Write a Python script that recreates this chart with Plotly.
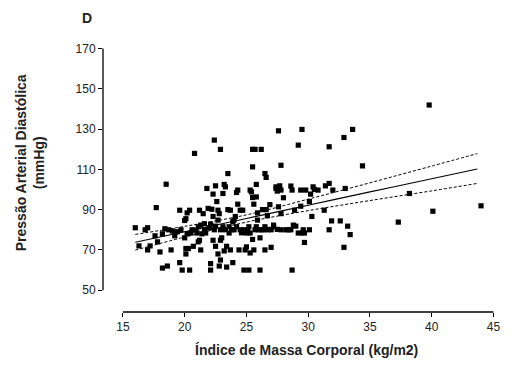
import plotly.graph_objects as go

# Scatter data: (IMC, PAD)
imc = [16.0,16.3,16.8,17.0,17.0,17.2,17.6,17.7,17.8,18.0,18.2,18.2,18.4,18.5,18.6,18.7,18.9,19.0,19.2,19.4,
       19.6,19.6,19.7,19.8,20.0,20.0,20.1,20.2,20.1,20.2,20.3,20.4,20.4,20.5,20.6,20.7,20.8,20.9,21.0,21.1,
       21.2,21.3,21.3,21.4,21.5,21.6,21.7,21.8,21.9,22.0,22.1,22.1,22.2,22.3,22.3,22.4,22.4,22.5,22.5,22.6,
       22.7,22.7,22.7,22.8,22.8,22.9,22.9,22.9,23.0,23.1,23.1,23.2,23.2,23.3,23.3,23.4,23.4,23.5,23.5,23.6,
       23.7,23.7,23.8,23.9,23.9,24.0,24.1,24.2,24.3,24.3,24.4,24.5,24.5,24.6,24.7,24.8,24.8,24.9,25.0,25.1,
       25.2,25.2,25.3,25.3,25.4,25.5,25.5,25.5,25.5,25.6,25.6,25.7,25.7,25.8,25.8,25.9,25.9,26.0,26.1,26.1,
       26.2,26.2,26.3,26.4,26.5,26.5,26.6,26.6,26.7,26.7,26.9,27.0,27.0,27.2,27.2,27.4,27.4,27.5,27.6,27.6,
       27.7,27.8,27.8,27.8,27.8,28.0,28.2,28.4,28.6,28.6,28.7,28.7,28.8,28.9,29.0,29.2,29.2,29.4,29.4,29.5,
       29.5,29.6,29.7,29.7,29.8,30.1,30.1,30.2,30.3,30.4,30.5,30.8,31.3,31.4,31.7,31.7,31.7,31.9,32.0,32.6,
       32.9,32.9,33.0,33.2,33.4,33.6,34.4,37.3,38.2,39.8,40.1,44.0,
       21.1,21.6,22.1,22.5,23.6,24.2,25.0,25.3,25.8,26.5,26.9,27.5,21.2,22.9,24.0,22.3,20.1]
pad = [81,72,80,81,70,72,77,91,74,69,61,78,80.5,102.6,62,80,70,79.4,77,79,
       63.7,89.7,80,60,76,84.6,68,88.4,70.7,78,70.7,89.7,60,78.4,80,71.8,117.9,79.8,78.4,74,
       89.7,70,82.3,78,88,80,78.4,100.5,90.6,81,63.2,60,90.2,74.8,97.7,124.5,80,71.8,101.8,94,
       84.8,68,89.7,88,62,119.9,65,80,76,81.5,98,69.5,102.5,80,101.3,71.8,61.5,90,107.9,81.5,
       70,89.7,80,84,63.7,80,86.6,98.5,92.7,99.7,70,89.7,80,78.5,89.7,80,60,70,71.5,80,
       60,81.5,99.7,68.5,98.8,119.9,96,111.2,75.2,92.7,70,80,119.9,96.3,102.5,88.4,84.8,80,60,76,
       80,119.9,90,80,107.9,70,90,106,87,80,92.5,71.3,80,82.3,81.5,100.5,101.3,99.2,129.1,91.4,
       101.8,99.7,88,112,80,95.9,80,80,101.7,80,60,99.7,82.3,89.7,81.8,78.4,122,91.7,99.7,78.4,
       129.8,80,78.4,73.7,99.7,80,94,97.7,86.6,101.3,100,99.7,89.7,101.8,103,121.2,80,84.4,99.7,84.4,
       125.8,71.3,100.5,81.8,77.6,129.8,111.7,83.8,98,141.9,89.2,91.9,
       81.5,83,82.8,81.8,78.4,81.5,78.4,78.4,81.5,81.5,80.2,80.2,74.8,74.8,84.8,86.6,85.5]

# Regression line and 95% confidence band
fit_x = [16.0, 20.0, 25.0, 30.0, 35.0, 40.0, 43.7]
fit_y = [73.8, 79.0, 85.6, 92.2, 98.8, 105.3, 110.2]
ci_upper = [77.7, 81.7, 87.4, 95.2, 103.3, 111.6, 117.8]
ci_lower = [69.9, 76.4, 83.8, 89.5, 94.5, 99.3, 103.0]

x_ticks = [15, 20, 25, 30, 35, 40, 45]
y_ticks = [50, 70, 90, 110, 130, 150, 170]

fig = go.Figure()
fig.add_trace(go.Scatter(x=imc, y=pad, mode="markers",
                         marker=dict(symbol="square", size=5.2, color="black"),
                         cliponaxis=False, showlegend=False))
fig.add_trace(go.Scatter(x=fit_x, y=fit_y, mode="lines", line=dict(color="black", width=1.1),
                         line_shape="spline", showlegend=False))
for band in (ci_upper, ci_lower):
    fig.add_trace(go.Scatter(x=fit_x, y=band, mode="lines", line_shape="spline",
                             line=dict(color="black", width=1, dash="3px,2px"), showlegend=False))

tick_font = dict(family="Liberation Sans, Arial, sans-serif", size=12, color="#222")
fig.update_xaxes(range=[13.387, 45.05], tickvals=x_ticks, ticks="outside", ticklen=4,
                 tickwidth=1.3, tickcolor="black", showgrid=False, zeroline=False,
                 showline=False, tickfont=tick_font)
fig.update_yaxes(range=[39.2, 170.2], tickvals=y_ticks, ticks="outside", ticklen=4,
                 tickwidth=1.3, tickcolor="black", showgrid=False, zeroline=False,
                 showline=False, tickfont=tick_font)

fig.add_shape(type="line", xref="x", yref="paper", x0=15, x1=45, y0=0, y1=0,
              line=dict(color="black", width=1.3))
fig.add_shape(type="line", xref="paper", yref="y", x0=0, x1=0, y0=50, y1=170,
              line=dict(color="black", width=1.3))

title_font = dict(family="Liberation Sans, Arial, sans-serif", size=14, color="#222")
fig.add_annotation(text="<b>Índice de Massa Corporal (kg/m2)</b>", xref="paper", yref="paper",
                   x=0.52, y=-0.145, xanchor="center", yanchor="middle", showarrow=False,
                   font=title_font)
fig.add_annotation(text="<b>Pressão Arterial Diastólica<br>(mmHg)</b>", xref="paper", yref="paper",
                   x=-0.186, y=0.5645, xanchor="center", yanchor="middle", showarrow=False,
                   textangle=-90, font=title_font)
fig.add_annotation(text="<b>D</b>", xref="paper", yref="paper", x=-0.04, y=1.115,
                   xanchor="center", yanchor="middle", showarrow=False,
                   font=dict(family="Liberation Sans, Arial, sans-serif", size=14, color="#222"))

fig.update_layout(width=512, height=365, margin=dict(l=103, r=16, t=48, b=53),
                  plot_bgcolor="white", paper_bgcolor="white")
fig.write_html("out.html", config={"displayModeBar": False},
               post_script="document.body.style.margin='0';document.body.style.overflow='hidden';")
